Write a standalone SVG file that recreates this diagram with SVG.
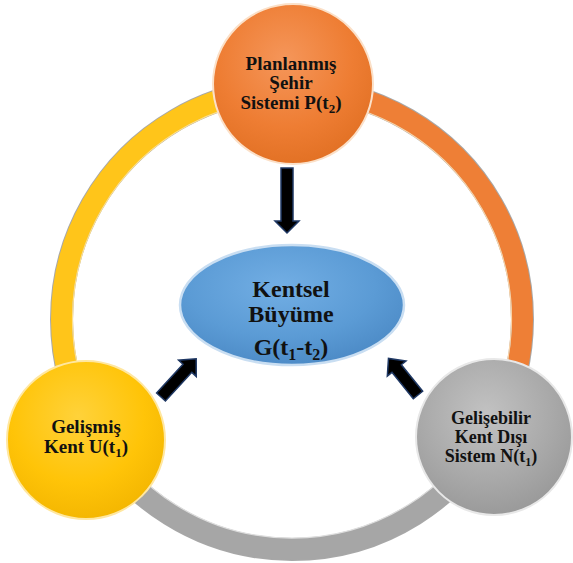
<svg xmlns="http://www.w3.org/2000/svg" width="573" height="563" viewBox="0 0 573 563">
<style>
.lbl{font-family:"Liberation Serif","Times New Roman",serif;font-weight:bold;fill:#111;text-anchor:middle}
.ring-edge{fill:none;stroke:#a8a8a8;stroke-width:23}
.arrow{fill:#000;stroke:#1f3864;stroke-width:1.5;stroke-linejoin:miter}
</style>
<defs>
<radialGradient id="gOr" cx="0.45" cy="0.35" r="0.7">
<stop offset="0" stop-color="#f5965a"/><stop offset="0.6" stop-color="#ee7d33"/><stop offset="1" stop-color="#e06f22"/>
</radialGradient>
<radialGradient id="gYe" cx="0.45" cy="0.35" r="0.7">
<stop offset="0" stop-color="#ffd23a"/><stop offset="0.6" stop-color="#ffc408"/><stop offset="1" stop-color="#f2b400"/>
</radialGradient>
<radialGradient id="gGr" cx="0.45" cy="0.35" r="0.7">
<stop offset="0" stop-color="#c2c2c2"/><stop offset="0.6" stop-color="#a9a9a9"/><stop offset="1" stop-color="#979797"/>
</radialGradient>
<radialGradient id="gBl" cx="0.45" cy="0.35" r="0.7">
<stop offset="0" stop-color="#72aee4"/><stop offset="0.6" stop-color="#5b9bd5"/><stop offset="1" stop-color="#4a88c4"/>
</radialGradient>
</defs>

<g id="connectors">
<path class="ring-edge" d="M292,88.5 A230.5,230.5 0 0,1 491,435.3"/>
<path class="ring-edge" d="M491,435.3 A230.5,230.5 0 0,1 93.2,435.6"/>
<path class="ring-edge" d="M93.2,435.6 A230.5,230.5 0 0,1 292,88.5"/>
<path d="M292,88.5 A230.5,230.5 0 0,1 491,435.3" fill="none" stroke="#ee7f36" stroke-width="21"/>
<path d="M491,435.3 A230.5,230.5 0 0,1 93.2,435.6" fill="none" stroke="#a6a6a6" stroke-width="21"/>
<path d="M93.2,435.6 A230.5,230.5 0 0,1 292,88.5" fill="none" stroke="#ffc51a" stroke-width="21"/>
<path d="M292,99 A220,220 0 0,1 482,429" fill="none" stroke="#fbd3a6" stroke-width="1.2"/>
<path d="M482,429 A220,220 0 0,1 102,429" fill="none" stroke="#dedede" stroke-width="1.2"/>
<path d="M102,429 A220,220 0 0,1 292,99" fill="none" stroke="#ffe08a" stroke-width="1.2"/>
<path class="arrow" transform="translate(287,168) rotate(90)" d="M0,-6 L53,-6 L53,-12 L65,0 L53,12 L53,6 L0,6 Z"/>
<path class="arrow" transform="translate(161,397) rotate(-47.4)" d="M0,-6 L39,-6 L39,-12 L52,0 L39,12 L39,6 L0,6 Z"/>
<path class="arrow" transform="translate(418,395) rotate(-128.9)" d="M0,-6 L34,-6 L34,-12 L47,0 L34,12 L34,6 L0,6 Z"/>
</g>

<g id="node-top">
<circle cx="293" cy="84" r="80" fill="url(#gOr)" stroke="#fbe0c8" stroke-width="2"/>
<text class="lbl" font-size="19"><tspan x="291" y="70">Planlanmış</tspan><tspan x="291" y="89">Şehir</tspan><tspan x="291" y="109">Sistemi P(t<tspan font-size="13" dy="4">2</tspan><tspan dy="-4">)</tspan></tspan></text>
</g>

<g id="node-center">
<ellipse cx="292" cy="305" rx="112" ry="60" fill="url(#gBl)" stroke="#c9def2" stroke-width="2.5"/>
<text class="lbl" font-size="24"><tspan x="291" y="297">Kentsel</tspan><tspan x="291" y="322">Büyüme</tspan><tspan x="291" y="355">G(t<tspan font-size="16" dy="5">1</tspan><tspan dy="-5">-t</tspan><tspan font-size="16" dy="5">2</tspan><tspan dy="-5">)</tspan></tspan></text>
</g>

<g id="node-left">
<circle cx="86" cy="440" r="79" fill="url(#gYe)" stroke="#ffe7a0" stroke-width="2"/>
<text class="lbl" font-size="19"><tspan x="86" y="433">Gelişmiş</tspan><tspan x="86" y="453">Kent U(t<tspan font-size="13" dy="4">1</tspan><tspan dy="-4">)</tspan></tspan></text>
</g>

<g id="node-right">
<circle cx="494" cy="437" r="78" fill="url(#gGr)" stroke="#e8e8e8" stroke-width="2"/>
<text class="lbl" font-size="18"><tspan x="491" y="424">Gelişebilir</tspan><tspan x="491" y="443">Kent Dışı</tspan><tspan x="491" y="462">Sistem N(t<tspan font-size="12" dy="4">1</tspan><tspan dy="-4">)</tspan></tspan></text>
</g>
</svg>
